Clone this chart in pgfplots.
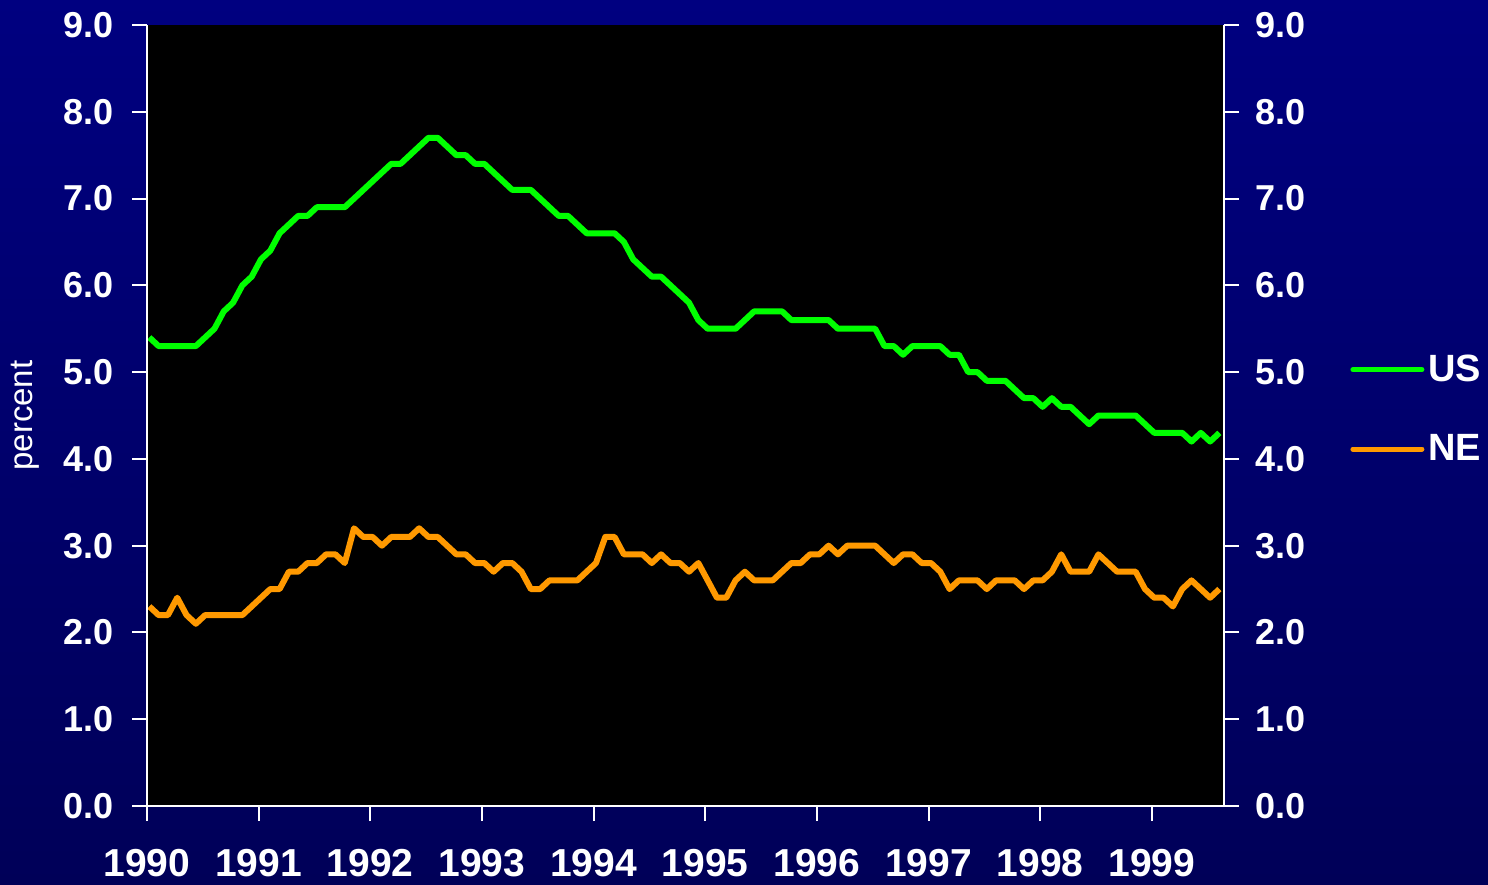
\documentclass[border=0pt]{standalone}
\usepackage{fontspec}
\setmainfont{Liberation Sans}
\usepackage{pgfplots}
\usepackage{pgfplotstable}
\pgfplotsset{compat=1.18}
\definecolor{usgreen}{RGB}{0,255,0}
\definecolor{neorange}{RGB}{255,153,0}
\definecolor{bgtop}{RGB}{0,0,128}
\definecolor{bgbot}{RGB}{0,0,88}

\pgfplotstableread{
i US NE
0 5.4 2.3
1 5.3 2.2
2 5.3 2.2
3 5.3 2.4
4 5.3 2.2
5 5.3 2.1
6 5.4 2.2
7 5.5 2.2
8 5.7 2.2
9 5.8 2.2
10 6.0 2.2
11 6.1 2.3
12 6.3 2.4
13 6.4 2.5
14 6.6 2.5
15 6.7 2.7
16 6.8 2.7
17 6.8 2.8
18 6.9 2.8
19 6.9 2.9
20 6.9 2.9
21 6.9 2.8
22 7.0 3.2
23 7.1 3.1
24 7.2 3.1
25 7.3 3.0
26 7.4 3.1
27 7.4 3.1
28 7.5 3.1
29 7.6 3.2
30 7.7 3.1
31 7.7 3.1
32 7.6 3.0
33 7.5 2.9
34 7.5 2.9
35 7.4 2.8
36 7.4 2.8
37 7.3 2.7
38 7.2 2.8
39 7.1 2.8
40 7.1 2.7
41 7.1 2.5
42 7.0 2.5
43 6.9 2.6
44 6.8 2.6
45 6.8 2.6
46 6.7 2.6
47 6.6 2.7
48 6.6 2.8
49 6.6 3.1
50 6.6 3.1
51 6.5 2.9
52 6.3 2.9
53 6.2 2.9
54 6.1 2.8
55 6.1 2.9
56 6.0 2.8
57 5.9 2.8
58 5.8 2.7
59 5.6 2.8
60 5.5 2.6
61 5.5 2.4
62 5.5 2.4
63 5.5 2.6
64 5.6 2.7
65 5.7 2.6
66 5.7 2.6
67 5.7 2.6
68 5.7 2.7
69 5.6 2.8
70 5.6 2.8
71 5.6 2.9
72 5.6 2.9
73 5.6 3.0
74 5.5 2.9
75 5.5 3.0
76 5.5 3.0
77 5.5 3.0
78 5.5 3.0
79 5.3 2.9
80 5.3 2.8
81 5.2 2.9
82 5.3 2.9
83 5.3 2.8
84 5.3 2.8
85 5.3 2.7
86 5.2 2.5
87 5.2 2.6
88 5.0 2.6
89 5.0 2.6
90 4.9 2.5
91 4.9 2.6
92 4.9 2.6
93 4.8 2.6
94 4.7 2.5
95 4.7 2.6
96 4.6 2.6
97 4.7 2.7
98 4.6 2.9
99 4.6 2.7
100 4.5 2.7
101 4.4 2.7
102 4.5 2.9
103 4.5 2.8
104 4.5 2.7
105 4.5 2.7
106 4.5 2.7
107 4.4 2.5
108 4.3 2.4
109 4.3 2.4
110 4.3 2.3
111 4.3 2.5
112 4.2 2.6
113 4.3 2.5
114 4.2 2.4
115 4.3 2.5
}\datatable

\begin{document}
\begin{tikzpicture}
\fill[top color=bgtop, bottom color=bgbot] (-73.5pt,-39pt) rectangle (670.5pt,403pt);
\begin{axis}[
  at={(0,0)}, anchor=south west,
  scale only axis, width=538.5pt, height=390.5pt,
  xmin=1990, xmax=1999.645, ymin=0, ymax=9,
  axis background/.style={fill=black},
  axis line style={draw=none},
  xtick={1990,1991,...,1999},
  ytick={0,1,...,9},
  xtick pos=bottom,
  ytick pos=both,
  yticklabel pos=left,
  tick align=outside,
  major tick length=7.5pt,
  tick style={white, line width=1pt},
  /pgf/number format/assume math mode=true,
  x tick label style={/pgf/number format/1000 sep={}, font=\fontsize{19.5}{22}\selectfont\bfseries, text=white, yshift=-10.5pt},
  y tick label style={/pgf/number format/fixed, /pgf/number format/fixed zerofill, /pgf/number format/precision=1, font=\fontsize{18}{20}\selectfont\bfseries, text=white, xshift=-5.5pt},
  legend style={at={(rel axis cs:1,0.508)}, anchor=west, xshift=60pt, draw=none, fill=none, text=white, font=\fontsize{19}{22}\selectfont\bfseries, row sep=21pt},
  legend cell align=left,
  legend image code/.code={\draw[#1, line width=2.5pt, line cap=round] (0pt,0pt) -- (34.5pt,0pt);},
  after end axis/.code={
    \draw[white, line width=1pt] (rel axis cs:0,1) -- (rel axis cs:0,0) -- (rel axis cs:1,0) -- (rel axis cs:1,1);
    \node[text=white, rotate=90, font=\fontsize{16.5}{18}\selectfont] at ([xshift=-61pt]rel axis cs:0,0.5) {percent};
  },
]
\addplot[usgreen, line width=3pt, line join=round] table[x expr=1990+(\thisrow{i}+0.25)/12, y=US]{\datatable};
\addlegendentry{US}
\addplot[neorange, line width=3pt, line join=round] table[x expr=1990+(\thisrow{i}+0.25)/12, y=NE]{\datatable};
\addlegendentry{NE}
\end{axis}
\begin{axis}[
  at={(0,0)}, anchor=south west,
  scale only axis, width=538.5pt, height=390.5pt,
  xmin=1990, xmax=1999.645, ymin=0, ymax=9,
  axis line style={draw=none},
  xtick=\empty,
  ytick={0,1,...,9},
  ytick pos=right,
  yticklabel pos=right,
  tick align=outside,
  major tick length=7.5pt,
  tick style={draw=none},
  /pgf/number format/assume math mode=true,
  y tick label style={/pgf/number format/fixed, /pgf/number format/fixed zerofill, /pgf/number format/precision=1, font=\fontsize{18}{20}\selectfont\bfseries, text=white, xshift=4.5pt},
]
\end{axis}
\pgfresetboundingbox
\useasboundingbox (-73.5pt,-39pt) rectangle (670.5pt,403pt);
\end{tikzpicture}
\end{document}
